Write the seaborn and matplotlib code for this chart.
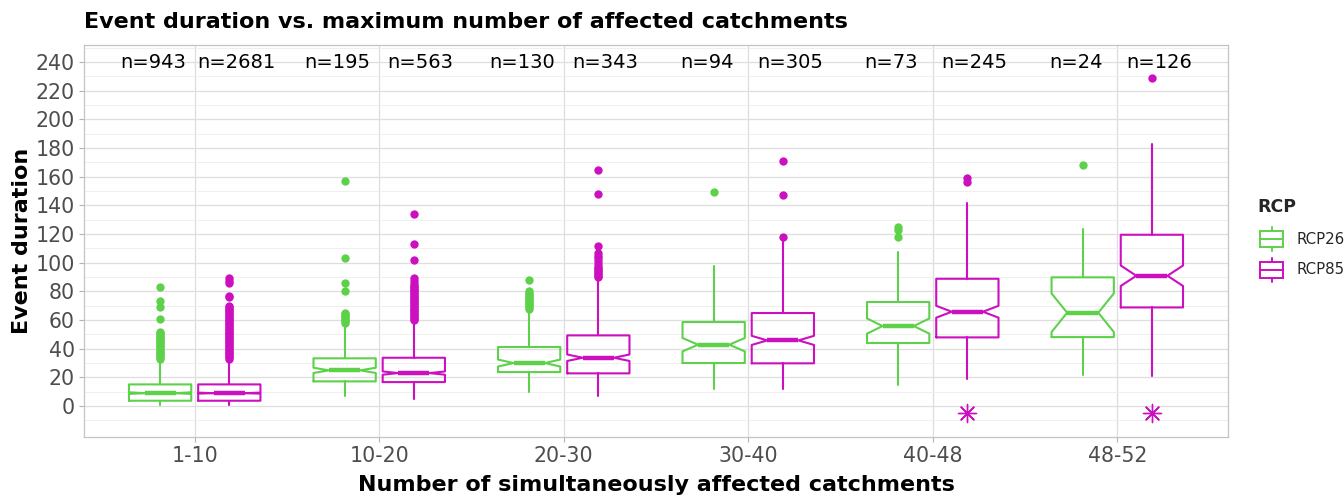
import numpy as np
import pandas as pd
import matplotlib
matplotlib.use("Agg")
import matplotlib.pyplot as plt
import seaborn as sns
from matplotlib.patches import Rectangle
from matplotlib.lines import Line2D

# ---------------- data ----------------
categories = ["1-10", "10-20", "20-30", "30-40", "40-48", "48-52"]
scenarios = ["RCP26", "RCP85"]
colors = {"RCP26": "#5ED14B", "RCP85": "#CC10C0"}

counts_rcp26 = [943, 195, 130, 94, 73, 24]
counts_rcp85 = [2681, 563, 343, 305, 245, 126]

whislo_rcp26 = [1, 7, 10, 12, 15, 22]
q1_rcp26 = [3.7, 17.2, 23.7, 30.0, 44.0, 48.1]
median_rcp26 = [9.0, 24.9, 30.0, 42.8, 55.8, 65.1]
q3_rcp26 = [15.1, 33.3, 41.2, 58.6, 72.6, 89.8]
whishi_rcp26 = [32, 56, 66, 97.7, 107.4, 123.3]
fliers_rcp26 = [
    [83, 73, 69, 61, 52, 51, 50, 49, 48, 47, 46, 45, 44, 43, 42, 41, 40,
     39, 38, 37, 36, 35, 34, 33],
    [157, 103, 86, 80, 65, 64, 63, 62, 61, 60, 59, 58],
    [88, 80, 79, 78, 77, 76, 75, 74, 73, 72, 71, 70, 69, 68],
    [149],
    [125, 123, 118],
    [168],
]

whislo_rcp85 = [1, 5, 7, 12, 19, 21]
q1_rcp85 = [3.7, 16.7, 22.8, 29.8, 47.9, 68.8]
median_rcp85 = [9.0, 23.0, 33.7, 45.8, 65.8, 90.9]
q3_rcp85 = [15.1, 33.7, 49.3, 64.9, 88.8, 119.5]
whishi_rcp85 = [32, 59, 89, 116, 141.4, 182.6]
fliers_rcp85 = [
    [89, 87, 86, 77, 76, 70, 69, 68, 67, 66, 65, 64, 63, 62, 61, 60, 59, 58,
     57, 56, 55, 54, 53, 52, 51, 50, 49, 48, 47, 46, 45, 44, 43, 42, 41, 40,
     39, 38, 37, 36, 35, 34, 33],
    [134, 113, 102, 89, 87, 85, 84, 83, 82, 81, 80, 79, 78, 77, 76, 75, 74,
     73, 72, 71, 70, 69, 68, 67, 66, 65, 64, 63, 62, 61, 60],
    [165, 148, 112, 107, 105, 103, 101, 99, 97, 96, 95, 94, 93, 92, 91, 90],
    [171, 147, 118],
    [159, 156],
    [229],
]

signif_rcp85 = [False, False, False, False, True, True]
signif_y = -5
label_y = 240

stats_by_rcp = {
    "RCP26": (whislo_rcp26, q1_rcp26, median_rcp26, q3_rcp26, whishi_rcp26,
              fliers_rcp26, counts_rcp26),
    "RCP85": (whislo_rcp85, q1_rcp85, median_rcp85, q3_rcp85, whishi_rcp85,
              fliers_rcp85, counts_rcp85),
}

# ---------------- styling ----------------
sns.set_theme(style="white")
plt.rcParams["font.family"] = ["DejaVu Sans"]

W, H = 1344, 496
fig = plt.figure(figsize=(W / 100, H / 100), dpi=100)
pl, pr, pt, pb = 84, 1228, 45, 437
ax = fig.add_axes([pl / W, 1 - pb / H, (pr - pl) / W, (pb - pt) / H])

dodge = 0.1875
box_w = 0.3375
xpos = np.arange(1, len(categories) + 1)

for k, rcp in enumerate(scenarios):
    lo, q1, med, q3, hi, fl, n = stats_by_rcp[rcp]
    off = -dodge if k == 0 else dodge
    stats = []
    for i in range(len(categories)):
        iqr = q3[i] - q1[i]
        notch = 1.58 * iqr / np.sqrt(n[i])
        stats.append(dict(whislo=lo[i], q1=q1[i], med=med[i], q3=q3[i],
                          whishi=hi[i], fliers=np.array(fl[i], float),
                          cilo=med[i] - notch, cihi=med[i] + notch))
    c = colors[rcp]
    ax.bxp(stats, positions=xpos + off, widths=box_w, shownotches=True,
           showcaps=False, manage_ticks=False,
           boxprops=dict(color=c, linewidth=1.5),
           whiskerprops=dict(color=c, linewidth=1.5),
           medianprops=dict(color=c, linewidth=3.2, solid_capstyle="butt"),
           flierprops=dict(marker="o", markerfacecolor=c, markeredgecolor="none",
                           markersize=6.0, linestyle="none"),
           zorder=3)
    # n labels
    for i in range(len(categories)):
        ax.text(xpos[i] + (-0.225 if k == 0 else 0.225), label_y, f"n={n[i]}",
                ha="center", va="center", fontsize=14, color="black", zorder=4)

# significance asterisks
sig_df = pd.DataFrame({
    "x": [xpos[i] + dodge for i in range(len(categories)) if signif_rcp85[i]],
    "y": [signif_y for i in range(len(categories)) if signif_rcp85[i]],
})
sns.scatterplot(data=sig_df, x="x", y="y", marker=(8, 2, 0), s=170,
                color=colors["RCP85"], linewidth=1.0, ax=ax, zorder=4,
                legend=False)

# axes
ax.set_xlim(0.4, 6.6)
ax.set_ylim(-21.6, 251.9)
ax.set_xticks(xpos)
ax.set_xticklabels(categories)
ax.set_yticks(np.arange(0, 241, 20))
ax.set_yticks(np.arange(-10, 251, 20), minor=True)
ax.set_xlabel("")
ax.set_ylabel("")
ax.set_axisbelow(True)
ax.grid(True, which="major", axis="both", color="#DEDEDE", linewidth=0.9)
ax.grid(True, which="minor", axis="y", color="#EDEDED", linewidth=0.6)
ax.tick_params(axis="both", which="major", labelsize=14.8, labelcolor="#4D4D4D",
               color="#B3B3B3", length=3.5, width=0.8, pad=3, left=True,
               bottom=True)
ax.tick_params(axis="y", which="minor", left=False)
for s in ax.spines.values():
    s.set_color("#C4C4C4")
    s.set_linewidth(0.9)

# titles
fig.text(pl / W, 1 - 22 / H, "Event duration vs. maximum number of affected catchments",
         ha="left", va="center", fontsize=16, fontweight="bold", color="black")
fig.text((pl + pr) / 2 / W, 1 - 485 / H, "Number of simultaneously affected catchments",
         ha="center", va="center", fontsize=16, fontweight="bold", color="black")
fig.text(22 / W, 1 - (pt + pb) / 2 / H, "Event duration", rotation=90,
         ha="center", va="center", fontsize=16, fontweight="bold", color="black")

# legend (drawn manually in figure pixels)
def fx(x):
    return x / W


def fy(y):
    return 1 - y / H


fig.text(fx(1257), fy(207), "RCP", ha="left", va="center", fontsize=12.5,
         fontweight="bold")
for j, rcp in enumerate(scenarios):
    cy = 239 + 31 * j
    c = colors[rcp]
    fig.add_artist(Rectangle((fx(1260), fy(cy + 8)), 23 / W, 16 / H,
                             transform=fig.transFigure, fill=False,
                             edgecolor=c, linewidth=1.4))
    fig.add_artist(Line2D([fx(1260), fx(1283)], [fy(cy), fy(cy)],
                          transform=fig.transFigure, color=c, linewidth=1.4))
    fig.add_artist(Line2D([fx(1271.5), fx(1271.5)], [fy(cy - 8), fy(cy - 12)],
                          transform=fig.transFigure, color=c, linewidth=1.4))
    fig.add_artist(Line2D([fx(1271.5), fx(1271.5)], [fy(cy + 8), fy(cy + 12)],
                          transform=fig.transFigure, color=c, linewidth=1.4))
    fig.text(fx(1296), fy(cy), rcp, ha="left", va="center", fontsize=10.8)

fig.savefig("out.png", dpi=100)
